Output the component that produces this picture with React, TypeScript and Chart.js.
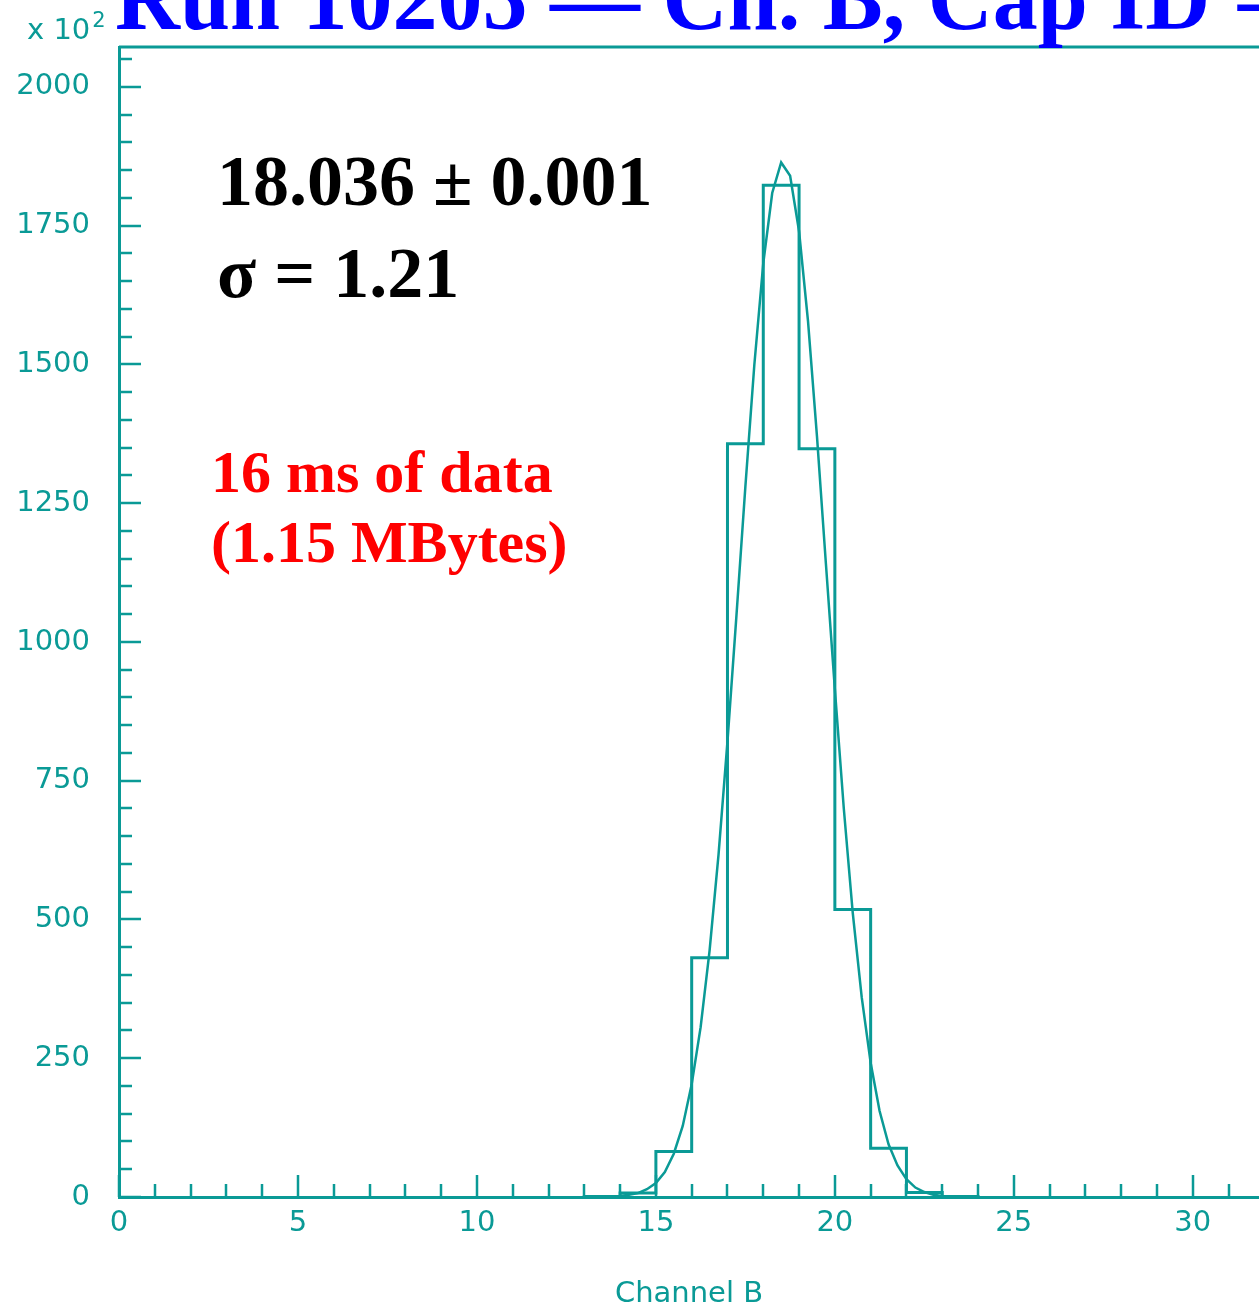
import React, { useEffect, useRef } from 'react';
import { Chart, registerables } from 'chart.js';

Chart.register(...registerables);

// ---- data ----
const binEdges = [13, 14, 15, 16, 17, 18, 19, 20, 21, 22, 23, 24];
const binCounts = [1, 7, 82, 431, 1357, 1823, 1348, 518, 88, 8, 1];

const fitX = [13.75, 14.0, 14.25, 14.5, 14.75, 15.0, 15.25, 15.5, 15.75, 16.0, 16.25, 16.5, 16.75, 17.0, 17.25, 17.5, 17.75, 18.0, 18.25, 18.5, 18.75, 19.0, 19.25, 19.5, 19.75, 20.0, 20.25, 20.5, 20.75, 21.0, 21.25, 21.5, 21.75, 22.0, 22.25, 22.5, 22.75, 23.0, 23.25];
const fitY = [1, 2, 4, 7, 14, 25, 45, 78, 128, 203, 306, 444, 617, 821, 1047, 1280, 1499, 1682, 1809, 1864, 1840, 1740, 1578, 1371, 1141, 915, 700, 512, 360, 242, 155, 95, 57, 32, 17, 9, 4, 2, 1];

const yTickLabels = [0, 250, 500, 750, 1000, 1250, 1500, 1750, 2000];
const xTickLabels = [0, 5, 10, 15, 20, 25, 30];
const yMinorStep = 50;
const xMinorStep = 1;
const yMax = 2072;
const xMax = 31.85;

const titleText = 'Run 10205 \u2014 Ch. B, Cap ID = 0';
const meanText = '18.036 \u00b1 0.001';
const sigmaText = '\u03c3 = 1.21';
const noteLines = ['16 ms of data', '(1.15 MBytes)'];
const xAxisTitle = 'Channel B';
const yScaleText = 'x 10';
const yScaleExp = '2';

const TEAL = '#0a9a96';

export default function App() {
  const ref = useRef<HTMLCanvasElement | null>(null);

  useEffect(() => {
    if (!ref.current) return;

    const histPoints = [
      { x: binEdges[0], y: 0 },
      ...binCounts.map((c, i) => ({ x: binEdges[i], y: c })),
      { x: binEdges[binEdges.length - 1], y: binCounts[binCounts.length - 1] },
      { x: binEdges[binEdges.length - 1], y: 0 },
    ];
    const fitPoints = fitX.map((x, i) => ({ x, y: fitY[i] }));

    const decor = {
      id: 'decor',
      afterDatasetsDraw(chart: any) {
        const { ctx, chartArea, scales } = chart;
        const xs = scales.x;
        const ys = scales.y;
        ctx.save();
        ctx.strokeStyle = TEAL;
        ctx.lineWidth = 3;
        ctx.beginPath();
        ctx.moveTo(chartArea.left, chartArea.top);
        ctx.lineTo(chartArea.right, chartArea.top);
        ctx.stroke();
        ctx.lineWidth = 2.5;
        ctx.beginPath();
        for (let v = 0; v <= ys.max; v += yMinorStep) {
          const py = Math.round(ys.getPixelForValue(v));
          const len = yTickLabels.includes(v) ? 22 : 13;
          ctx.moveTo(chartArea.left, py);
          ctx.lineTo(chartArea.left + len, py);
        }
        for (let v = 0; v <= xs.max; v += xMinorStep) {
          const px = Math.round(xs.getPixelForValue(v));
          const len = xTickLabels.includes(v) ? 22 : 13;
          ctx.moveTo(px, chartArea.bottom);
          ctx.lineTo(px, chartArea.bottom - len);
        }
        ctx.stroke();
        ctx.restore();
      },
      afterDraw(chart: any) {
        const { ctx } = chart;
        ctx.save();
        ctx.textBaseline = 'alphabetic';
        ctx.textAlign = 'left';
        ctx.fillStyle = '#0000ff';
        ctx.font = 'bold 90px "Liberation Serif", "Times New Roman", serif';
        ctx.fillText(titleText, 115, 29);
        ctx.fillStyle = TEAL;
        ctx.font = '29px "DejaVu Sans", sans-serif';
        ctx.fillText(yScaleText, 27, 39);
        const w = ctx.measureText(yScaleText).width;
        ctx.font = '21px "DejaVu Sans", sans-serif';
        ctx.fillText(yScaleExp, 27 + w + 2, 27);
        ctx.fillStyle = '#000000';
        ctx.font = 'bold 72px "Liberation Serif", "Times New Roman", serif';
        ctx.fillText(meanText, 217, 205);
        ctx.fillText(sigmaText, 217, 297);
        ctx.fillStyle = '#ff0000';
        ctx.font = 'bold 60px "Liberation Serif", "Times New Roman", serif';
        ctx.fillText(noteLines[0], 211, 492);
        ctx.fillText(noteLines[1], 211, 562);
        ctx.restore();
      },
    };

    const chart = new Chart(ref.current, {
      type: 'line',
      data: {
        datasets: [
          {
            label: 'histogram',
            data: histPoints,
            stepped: 'before',
            borderColor: TEAL,
            borderWidth: 3,
            pointRadius: 0,
            fill: false,
          },
          {
            label: 'fit',
            data: fitPoints,
            borderColor: TEAL,
            borderWidth: 2.5,
            pointRadius: 0,
            tension: 0,
            fill: false,
          },
        ],
      },
      options: {
        animation: false,
        responsive: false,
        maintainAspectRatio: false,
        devicePixelRatio: 1,
        layout: { padding: { top: 47, right: 0, left: 0, bottom: 0 } },
        plugins: {
          legend: { display: false },
          tooltip: { enabled: false },
          title: { display: false },
        },
        scales: {
          x: {
            type: 'linear',
            min: 0,
            max: xMax,
            grid: { display: false, drawTicks: false },
            border: { display: true, color: TEAL, width: 3 },
            afterBuildTicks: (s: any) => {
              s.ticks = xTickLabels.map((v) => ({ value: v }));
            },
            afterFit: (s: any) => {
              s.height = 112;
            },
            ticks: {
              color: TEAL,
              padding: 9,
              maxRotation: 0,
              autoSkip: false,
              font: { family: '"DejaVu Sans", sans-serif', size: 29 },
              callback: (v: any) => String(v),
            },
            title: {
              display: true,
              text: xAxisTitle,
              color: TEAL,
              font: { family: '"DejaVu Sans", sans-serif', size: 29, lineHeight: 1 },
              padding: { top: 0, bottom: 0 },
            },
          },
          y: {
            type: 'linear',
            min: 0,
            max: yMax,
            grid: { display: false, drawTicks: false },
            border: { display: true, color: TEAL, width: 3 },
            afterBuildTicks: (s: any) => {
              s.ticks = yTickLabels.map((v) => ({ value: v }));
            },
            afterFit: (s: any) => {
              s.width = 119;
            },
            ticks: {
              color: TEAL,
              padding: 29,
              autoSkip: false,
              font: { family: '"DejaVu Sans", sans-serif', size: 29 },
              callback: (v: any) => String(v),
            },
          },
        },
      },
      plugins: [decor],
    });

    return () => chart.destroy();
  }, []);

  return (
    <div style={{ position: 'fixed', left: 0, top: 0, width: 1259, height: 1309, background: '#ffffff' }}>
      <canvas ref={ref} width={1259} height={1309} style={{ width: 1259, height: 1309, display: 'block' }} />
    </div>
  );
}
